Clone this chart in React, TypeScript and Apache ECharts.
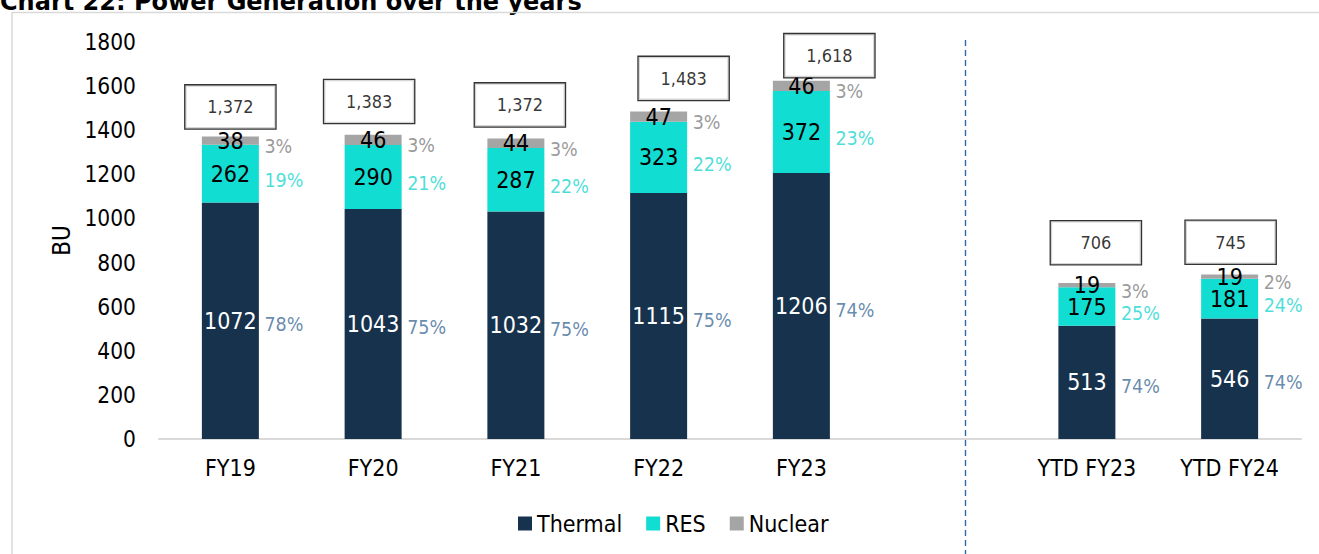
import React, { useEffect, useRef } from "react";
import * as echarts from "echarts";

const categories = ["FY19", "FY20", "FY21", "FY22", "FY23", "", "YTD FY23", "YTD FY24"];
const thermal = [1072, 1043, 1032, 1115, 1206, null, 513, 546];
const res = [262, 290, 287, 323, 372, null, 175, 181];
const nuclear = [38, 46, 44, 47, 46, null, 19, 19];
const totals = [1372, 1383, 1372, 1483, 1618, null, 706, 745];
const thermalPct = [78, 75, 75, 75, 74, null, 74, 74];
const resPct = [19, 21, 22, 22, 23, null, 25, 24];
const nuclearPct = [3, 3, 3, 3, 3, null, 3, 2];
const yTicks = { min: 0, max: 1800, interval: 200 };

// layout tweaks for the hand-placed total boxes (pixels)
const boxShiftX = [0, -4, 4, 25, 28, 0, 9, 1];
const boxGap = [8, 11, 10, 12, 5, 0, 19, 11];

const FONT = "'DejaVu Sans Condensed', 'DejaVu Sans', sans-serif";
const C_THERMAL = "#17324d";
const C_RES = "#12ddd3";
const C_NUC = "#a5a5a5";

export default function App() {
  const ref = useRef<HTMLDivElement>(null);
  useEffect(() => {
    const chart = echarts.init(ref.current!, null, { renderer: "svg" });

    const valLabel = (color: string, size: number) => ({
      show: true,
      position: "inside",
      color,
      fontSize: size,
      fontFamily: FONT,
      formatter: (p: any) => (p.value == null ? "" : String(p.value)),
    });

    const pctData = (pcts: (number | null)[], base: (number | null)[][], vals: (number | null)[]) =>
      pcts
        .map((p, i) => {
          if (p == null || vals[i] == null) return null;
          const b = base.reduce((s, arr) => s + ((arr[i] as number) || 0), 0);
          return { value: [i, b + (vals[i] as number) / 2, p] };
        })
        .filter((d) => d != null);

    const pctSeries = (name: string, data: any[], color: string, dy: number) => ({
      name,
      type: "scatter",
      symbolSize: 0,
      silent: true,
      z: 5,
      data,
      label: {
        show: true,
        position: "right",
        distance: 34,
        offset: [0, dy],
        color,
        fontSize: 19.5,
        fontFamily: FONT,
        formatter: (p: any) => p.value[2] + "%",
      },
    });

    const boxData = totals
      .map((t, i) =>
        t == null
          ? null
          : {
              value: [i, t],
              label: { offset: [boxShiftX[i], -boxGap[i]] },
            }
      )
      .filter((d) => d != null);

    chart.setOption({
      animation: false,
      backgroundColor: "#ffffff",
      textStyle: { fontFamily: FONT },
      grid: { left: 159, right: 18, top: 42, bottom: 115 },
      legend: {
        data: ["Thermal", "RES", "Nuclear"],
        left: 513,
        top: 507,
        icon: "rect",
        itemWidth: 14,
        itemHeight: 14,
        itemGap: 24,
        itemStyle: { borderWidth: 0 },
        textStyle: { fontSize: 23, color: "#000", fontFamily: FONT },
      },
      xAxis: {
        type: "category",
        data: categories,
        axisTick: { show: false },
        axisLine: { lineStyle: { color: "#d9d9d9", width: 2 } },
        axisLabel: { color: "#000", fontSize: 23, margin: 17, fontFamily: FONT },
      },
      yAxis: {
        type: "value",
        min: yTicks.min,
        max: yTicks.max,
        interval: yTicks.interval,
        splitLine: { show: false },
        axisLine: { show: false },
        axisTick: { show: false },
        axisLabel: {
          color: "#000",
          fontSize: 22.5,
          margin: 23,
          fontFamily: FONT,
          formatter: (v: number) => String(v),
        },
        name: "BU",
        nameLocation: "middle",
        nameRotate: 90,
        nameGap: 85,
        nameTextStyle: { color: "#000", fontSize: 24, fontFamily: FONT },
      },
      graphic: [
        {
          type: "text",
          left: 0,
          top: -10,
          style: {
            text: "Chart 22: Power Generation over the years",
            font: "bold 24px 'DejaVu Sans', sans-serif",
            fill: "#000",
          },
        },
        {
          type: "line",
          shape: { x1: 12, y1: 12.5, x2: 1319, y2: 12.5 },
          style: { stroke: "#d9d9d9", lineWidth: 1.5 },
        },
        {
          type: "line",
          shape: { x1: 12, y1: 12, x2: 12, y2: 554 },
          style: { stroke: "#d9d9d9", lineWidth: 1.5 },
        },
        {
          type: "line",
          shape: { x1: 965.5, y1: 40, x2: 965.5, y2: 554 },
          style: { stroke: "#2a6aa8", lineWidth: 1.4, lineDash: [6, 4] },
        },
      ],
      series: [
        {
          name: "Thermal",
          type: "bar",
          stack: "gen",
          barWidth: 57,
          itemStyle: { color: C_THERMAL },
          label: valLabel("#ffffff", 23),
          data: thermal,
        },
        {
          name: "RES",
          type: "bar",
          stack: "gen",
          barWidth: 57,
          itemStyle: { color: C_RES },
          label: valLabel("#000000", 23),
          data: res,
        },
        {
          name: "Nuclear",
          type: "bar",
          stack: "gen",
          barWidth: 57,
          itemStyle: { color: C_NUC },
          label: valLabel("#000000", 23),
          data: nuclear,
        },
        pctSeries("ThermalPct", pctData(thermalPct, [], thermal), "#3f6d99", 4),
        pctSeries("RESPct", pctData(resPct, [thermal], res), "#1ad6cf", 7),
        pctSeries("NuclearPct", pctData(nuclearPct, [thermal, res], nuclear), "#808080", 6),
        {
          name: "Total",
          type: "scatter",
          symbolSize: 0,
          silent: true,
          z: 6,
          data: boxData,
          label: {
            show: true,
            position: "top",
            distance: 0,
            width: 90,
            height: 43,
            lineHeight: 43,
            padding: 0,
            backgroundColor: "#ffffff",
            borderColor: "#000000",
            borderWidth: 1.3,
            color: "#000",
            fontSize: 18,
            fontFamily: FONT,
            formatter: (p: any) => Number(p.value[1]).toLocaleString("en-US"),
          },
        },
      ],
    });
    return () => chart.dispose();
  }, []);
  return (
    <div
      ref={ref}
      style={{ position: "fixed", left: 0, top: 0, width: 1319, height: 554 }}
    />
  );
}
